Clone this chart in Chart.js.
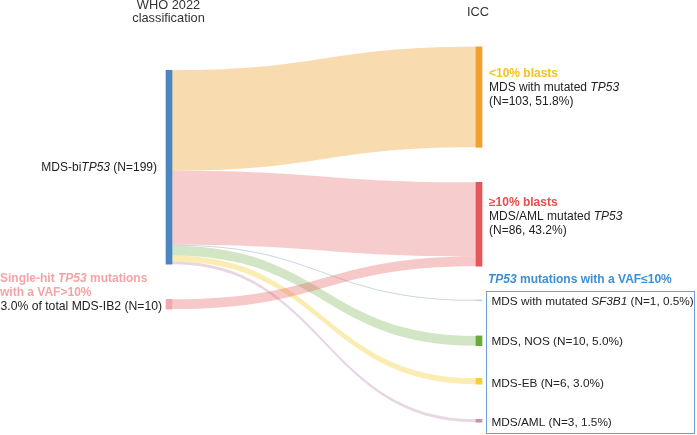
<!DOCTYPE html>
<html>
<head>
<meta charset="utf-8">
<script src="https://cdn.jsdelivr.net/npm/chart.js@4.4.0/dist/chart.umd.min.js"></script>
<style>
  html, body { margin: 0; padding: 0; background: #fff; }
  #chart { display: block; }
</style>
</head>
<body>
<canvas id="chart" width="697" height="435"></canvas>
<script>
  // Column headers
  const columns = [["WHO 2022", "classification"], ["ICC"]];

  // Source nodes (WHO 2022) and target nodes (ICC)
  const sourceNames = ["MDS-biTP53", "Single-hit TP53"];
  const targetNames = ["<10% blasts", "≥10% blasts", "MDS with mutated SF3B1", "MDS, NOS", "MDS-EB", "MDS/AML"];

  // Patients moving from each source into each target
  const flowsBiTP53 = [103, 76, 1, 10, 6, 3];
  const flowsSingleHit = [0, 10, 0, 0, 0, 0];
  const targetPercent = [51.8, 43.2, 0.5, 5.0, 3.0, 1.5];
  const singleHitShare = 3.0;

  // Sankey layout: where each node starts on the value axis
  const sourceTop = [31, 266];
  const targetTop = [7, 146, 266.5, 303.5, 347, 389];

  const sourceColors = ["#4a86c0", "#f2a9ae"];
  const targetColors = ["#f0a02c", "#e5575a", "#c8d3dc", "#6aa93c", "#f5cf33", "#c98fb9"];
  const linkColors = [
    "rgba(240,160,48,0.38)",
    "rgba(229,85,85,0.30)",
    "rgba(150,175,195,0.5)",
    "rgba(106,170,58,0.30)",
    "rgba(245,205,53,0.38)",
    "rgba(190,140,175,0.35)",
  ];
  const singleLinkColor = "rgba(229,85,85,0.32)";

  const FONT = "'Liberation Sans', Arial, sans-serif";
  const flows = [flowsBiTP53, flowsSingleHit];
  const sourceTotals = flows.map((f) => f.reduce((a, b) => a + b, 0));
  const targetTotals = targetNames.map((_, j) => flowsBiTP53[j] + flowsSingleHit[j]);

  // One floating bar per node
  const datasets = [];
  sourceNames.forEach((name, i) => {
    datasets.push({
      label: name,
      data: [[sourceTop[i], sourceTop[i] + sourceTotals[i]], null],
      backgroundColor: sourceColors[i],
    });
  });
  targetNames.forEach((name, j) => {
    datasets.push({
      label: name,
      data: [null, [targetTop[j], targetTop[j] + targetTotals[j]]],
      backgroundColor: targetColors[j],
    });
  });

  function fontOf(r, size) {
    return (r.italic ? "italic " : "") + (r.bold ? "bold " : "") + size + "px " + FONT;
  }

  // Draw a line of text made of runs with different styles
  function drawRuns(ctx, x, y, runs, align, size) {
    size = size || 12;
    let width = 0;
    runs.forEach((r) => {
      ctx.font = fontOf(r, size);
      width += ctx.measureText(r.t).width;
    });
    let cx = align === "right" ? x - width : align === "center" ? x - width / 2 : x;
    runs.forEach((r) => {
      ctx.font = fontOf(r, size);
      ctx.fillStyle = r.color || "#222";
      ctx.fillText(r.t, cx, y);
      cx += ctx.measureText(r.t).width;
    });
  }

  function linkPath(ctx, x0, y0a, y0b, x1, y1a, y1b) {
    const xm = (x0 + x1) / 2;
    ctx.beginPath();
    ctx.moveTo(x0, y0a);
    ctx.bezierCurveTo(xm, y0a, xm, y1a, x1, y1a);
    ctx.lineTo(x1, y1b);
    ctx.bezierCurveTo(xm, y1b, xm, y0b, x0, y0b);
    ctx.closePath();
  }

  const sankeyLinks = {
    id: "sankeyLinks",
    beforeDatasetsDraw(chart) {
      const ctx = chart.ctx;
      const y = chart.scales.y;
      const srcMeta = sourceNames.map((_, i) => chart.getDatasetMeta(i).data[0]);
      const tgtMeta = targetNames.map((_, j) => chart.getDatasetMeta(j + sourceNames.length).data[1]);
      const inUsed = targetNames.map(() => 0);
      ctx.save();
      flows.forEach((row, i) => {
        let outUsed = 0;
        const s = srcMeta[i];
        const x0 = s.x + s.width / 2;
        row.forEach((v, j) => {
          if (!v) return;
          const t = tgtMeta[j];
          const x1 = t.x - t.width / 2;
          const a0 = sourceTop[i] + outUsed;
          const a1 = targetTop[j] + inUsed[j];
          linkPath(ctx, x0, y.getPixelForValue(a0), y.getPixelForValue(a0 + v),
            x1, y.getPixelForValue(a1), y.getPixelForValue(a1 + v));
          ctx.fillStyle = i === 0 ? linkColors[j] : singleLinkColor;
          ctx.fill();
          outUsed += v;
          inUsed[j] += v;
        });
      });
      ctx.restore();
    },
    afterDraw(chart) {
      const ctx = chart.ctx;
      const x = chart.scales.x;
      const y = chart.scales.y;
      const black = "#222";
      ctx.save();
      ctx.textBaseline = "middle";

      // column headers
      drawRuns(ctx, x.getPixelForValue(0) - 0.5, 5.5, [{ t: columns[0][0], color: "#333" }], "center", 12.8);
      drawRuns(ctx, x.getPixelForValue(0) - 0.5, 18.5, [{ t: columns[0][1], color: "#333" }], "center", 12.8);
      drawRuns(ctx, x.getPixelForValue(1) - 1, 12, [{ t: columns[1][0], color: "#333" }], "center", 12.8);

      // source labels
      const sMid = y.getPixelForValue(sourceTop[0] + sourceTotals[0] / 2);
      drawRuns(ctx, 157, sMid, [
        { t: "MDS-bi" }, { t: "TP53", italic: true }, { t: " (N=" + sourceTotals[0] + ")" },
      ], "right");
      const pink = "#f4a3a7";
      drawRuns(ctx, 0, 279, [
        { t: "Single-hit ", bold: true, color: pink },
        { t: "TP53", bold: true, italic: true, color: pink },
        { t: " mutations", bold: true, color: pink },
      ], "left");
      drawRuns(ctx, 0, 292.5, [{ t: "with a VAF>10%", bold: true, color: pink }], "left");
      drawRuns(ctx, 0.5, 306.5, [
        { t: singleHitShare.toFixed(1) + "% of total MDS-IB2 (N=" + sourceTotals[1] + ")", color: black },
      ], "left", 12.2);

      // target labels
      const tx = 489;
      drawRuns(ctx, tx, 74, [{ t: "<10% blasts", bold: true, color: "#f5c31c" }], "left");
      drawRuns(ctx, tx, 88, [{ t: "MDS with mutated " }, { t: "TP53", italic: true }], "left");
      drawRuns(ctx, tx, 102, [{ t: "(N=" + targetTotals[0] + ", " + targetPercent[0].toFixed(1) + "%)" }], "left");

      drawRuns(ctx, tx, 203, [{ t: "≥10% blasts", bold: true, color: "#e84d4d" }], "left");
      drawRuns(ctx, tx, 217, [{ t: "MDS/AML mutated " }, { t: "TP53", italic: true }], "left");
      drawRuns(ctx, tx, 231, [{ t: "(N=" + targetTotals[1] + ", " + targetPercent[1].toFixed(1) + "%)" }], "left");

      const blue = "#3b8fd6";
      drawRuns(ctx, 488, 280, [
        { t: "TP53", bold: true, italic: true, color: blue },
        { t: " mutations with a VAF≤10%", bold: true, color: blue },
      ], "left");

      // box around low-VAF categories
      ctx.strokeStyle = "#6d9fd2";
      ctx.lineWidth = 1;
      ctx.strokeRect(486.5, 291.5, 208, 142);

      const small = [
        [{ t: "MDS with mutated " }, { t: "SF3B1", italic: true }],
        [{ t: "MDS, NOS" }],
        [{ t: "MDS-EB" }],
        [{ t: "MDS/AML" }],
      ];
      const smallY = [301.5, 341.5, 384, 422.5];
      small.forEach((runs, k) => {
        const j = k + 2;
        const suffix = " (N=" + targetTotals[j] + ", " + targetPercent[j].toFixed(1) + "%)";
        drawRuns(ctx, 491.5, smallY[k], runs.concat([{ t: suffix }]), "left", 11.8);
      });
      ctx.restore();
    },
  };

  new Chart(document.getElementById("chart"), {
    type: "bar",
    data: { labels: ["WHO 2022", "ICC"], datasets: datasets },
    options: {
      responsive: false,
      animation: false,
      layout: { padding: { left: 14, right: 63, top: 40, bottom: 5 } },
      datasets: { bar: { grouped: false, barThickness: 6 } },
      plugins: { legend: { display: false }, tooltip: { enabled: false } },
      scales: {
        x: { display: false },
        y: { display: false, min: 0, max: 400, reverse: true },
      },
    },
    plugins: [sankeyLinks],
  });
</script>
</body>
</html>
